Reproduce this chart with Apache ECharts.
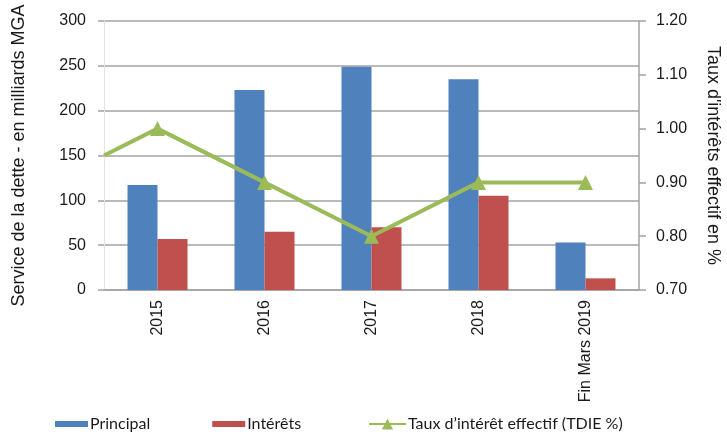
<!DOCTYPE html>
<html>
<head>
<meta charset="utf-8">
<script src="https://cdn.jsdelivr.net/npm/echarts@6/dist/echarts.min.js"></script>
<style>
  html, body { margin: 0; padding: 0; background: #fff; }
  #chart { width: 727px; height: 434px; }
</style>
</head>
<body>
<div id="chart"></div>
<script>
// categories and values
const years = ['2015', '2016', '2017', '2018', 'Fin Mars 2019'];
const principal = [117, 223, 249, 235, 53];
const interets = [57, 65, 70, 105, 13];
const tdie = [1.00, 0.90, 0.80, 0.90, 0.90];
const tdieStart = 0.95; // the line enters from the left edge of the plot

const leftTicks = { min: 0, max: 300, interval: 50 };
const rightTicks = { min: 0.7, max: 1.2, interval: 0.1 };

// the line runs on a hidden half-step axis so it can start at the plot edge
const halfSteps = [''];
const lineData = [{ value: tdieStart, symbol: 'none' }];
years.forEach((y, i) => {
  halfSteps.push(y, '');
  lineData.push(tdie[i], null);
});

const gridGrey = '#a3a3a3';
const txt = '#1a1a1a';

const chart = echarts.init(document.getElementById('chart'));
chart.setOption({
  animation: false,
  textStyle: { fontFamily: '"Liberation Sans", Arial, sans-serif' },
  grid: { left: 104, right: 88, top: 21, bottom: 144, outerBoundsMode: 'none', containLabel: false },
  legend: [
    {
      data: ['Principal', 'Intérêts'],
      left: 55, top: 416, padding: 0,
      itemWidth: 33, itemHeight: 6, itemGap: 62,
      icon: 'rect',
      textStyle: { fontFamily: 'Lato, sans-serif', fontSize: 16, color: txt, padding: [0, 0, 0, -3] }
    },
    {
      data: ['Taux d’intérêt effectif (TDIE %)'],
      left: 368, top: 416, padding: 0,
      itemWidth: 37, itemHeight: 14,
      textStyle: { fontFamily: 'Lato, sans-serif', fontSize: 16, color: txt, padding: [0, 0, 0, -3] }
    }
  ],
  xAxis: [
    {
      type: 'category',
      data: years,
      axisLine: { lineStyle: { color: gridGrey, width: 1.5 } },
      axisTick: { show: false },
      axisLabel: { rotate: 90, margin: 10, fontSize: 16, color: txt }
    },
    {
      type: 'category',
      data: halfSteps,
      boundaryGap: false,
      show: false
    }
  ],
  yAxis: [
    {
      type: 'value',
      min: leftTicks.min, max: leftTicks.max, interval: leftTicks.interval,
      name: 'Service de la dette - en milliards MGA',
      nameLocation: 'middle', nameGap: 76, nameRotate: 90,
      nameTextStyle: { fontSize: 18, color: txt },
      axisLine: { show: true, lineStyle: { color: '#e4e4e4', width: 1 } },
      axisTick: { show: true, length: 6, lineStyle: { color: gridGrey, width: 1.5 } },
      axisLabel: { margin: 18, fontSize: 16, color: txt },
      splitLine: { lineStyle: { color: gridGrey, width: 1.5 } }
    },
    {
      type: 'value',
      position: 'right',
      min: rightTicks.min, max: rightTicks.max, interval: rightTicks.interval,
      name: 'Taux d\'intérêts effectif en %',
      nameLocation: 'middle', nameGap: 65, nameRotate: -90,
      nameTextStyle: { fontSize: 18, color: txt },
      axisLine: { show: true, lineStyle: { color: gridGrey, width: 1.5 } },
      axisTick: { show: true, length: 7, lineStyle: { color: gridGrey, width: 1.5 } },
      axisLabel: { margin: 17, fontSize: 16, color: txt, formatter: v => v.toFixed(2) },
      splitLine: { show: false }
    }
  ],
  series: [
    {
      name: 'Principal',
      type: 'bar',
      data: principal,
      barWidth: 30,
      barGap: '0%',
      itemStyle: { color: '#4f81bd' }
    },
    {
      name: 'Intérêts',
      type: 'bar',
      data: interets,
      barWidth: 30,
      barGap: '0%',
      itemStyle: { color: '#c0504d' }
    },
    {
      name: 'Taux d’intérêt effectif (TDIE %)',
      type: 'line',
      xAxisIndex: 1,
      yAxisIndex: 1,
      data: lineData,
      connectNulls: true,
      symbol: 'triangle',
      symbolSize: 15,
      lineStyle: { color: '#9bbb59', width: 4 },
      itemStyle: { color: '#9bbb59' },
      z: 5
    }
  ]
});
</script>
</body>
</html>
